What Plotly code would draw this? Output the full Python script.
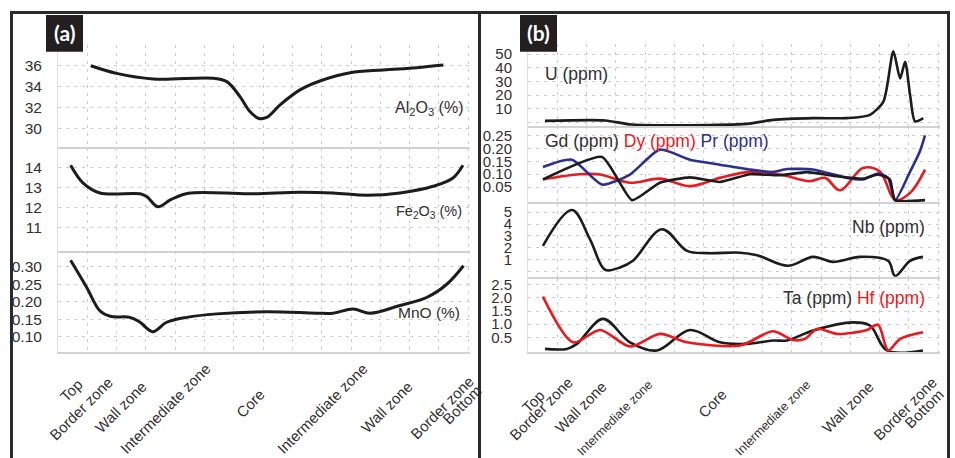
import plotly.graph_objects as go

# ---------------- DATA ----------------
zone_labels = ["Top", "Border zone", "Wall zone", "Intermediate zone", "Core",
               "Intermediate zone", "Wall zone", "Border zone", "Bottom"]

# Panel (a) – major oxides (%), position along profile
pos_al2o3 = [1.12, 2.0, 3.25, 5.30, 5.76, 6.21, 6.55, 6.84, 7.12, 7.58, 8.26, 8.94, 9.97, 11.1, 12.24, 13.15]
al2o3 = [36.0, 35.27, 34.73, 34.80, 34.48, 33.05, 31.62, 30.98, 31.05, 32.26, 33.69, 34.54, 35.33, 35.59, 35.81, 36.06]

pos_fe2o3 = [0.43, 0.85, 1.43, 2.8, 3.03, 3.41, 3.85, 4.45, 6.55, 8.26, 9.39, 10.55, 11.67, 12.8, 13.48, 13.82]
fe2o3 = [14.1, 13.23, 12.73, 12.69, 12.55, 12.05, 12.40, 12.72, 12.69, 12.77, 12.73, 12.62, 12.73, 13.06, 13.47, 14.1]

pos_mno = [0.43, 0.98, 1.43, 1.78, 2.46, 2.8, 3.23, 3.71, 4.39, 5.42, 7.12, 8.83, 9.39, 10.07, 10.65, 11.67, 12.58, 13.27, 13.84]
mno = [0.319, 0.241, 0.174, 0.158, 0.155, 0.141, 0.114, 0.141, 0.155, 0.165, 0.171, 0.167, 0.167, 0.179, 0.167, 0.189, 0.212, 0.25, 0.303]

# Panel (b) – trace elements (ppm)
pos_u = [0.58, 2.63, 3.54, 7.46, 8.37, 9.74, 10.88, 11.67, 12.13, 12.47, 12.7, 12.87, 13.04, 13.21, 13.49]
u_ppm = [1.2, 1.5, -1.5, -1.0, 1.9, 3.2, 3.2, 5.6, 15.3, 52.0, 32.2, 44.4, 20.2, 0.8, 3.2]

pos_gd = [0.51, 2.53, 3.55, 4.5, 5.53, 6.55, 7.58, 8.6, 9.52, 10.55, 11.43, 11.95, 12.35, 12.53, 13.55]
gd = [0.08, 0.167, 0.0, 0.067, 0.088, 0.07, 0.10, 0.096, 0.108, 0.092, 0.083, 0.099, 0.08, 0.0, 0.0]

pos_dy = [0.51, 1.77, 2.46, 3.48, 4.5, 5.53, 6.55, 7.58, 8.6, 9.62, 10.14, 10.65, 11.43, 12.01, 12.53, 13.04, 13.55]
dy = [0.08, 0.10, 0.099, 0.067, 0.083, 0.054, 0.086, 0.109, 0.099, 0.073, 0.086, 0.038, 0.124, 0.11, 0.0, 0.028, 0.118]

pos_pr = [0.51, 1.5, 2.53, 3.48, 4.5, 5.53, 6.55, 7.58, 8.36, 8.84, 9.73, 10.89, 11.43, 11.95, 12.29, 12.53, 13.04, 13.38, 13.55]
pr = [0.128, 0.156, 0.06, 0.099, 0.195, 0.156, 0.137, 0.118, 0.109, 0.12, 0.118, 0.086, 0.08, 0.103, 0.086, 0.0, 0.11, 0.19, 0.25]

pos_nb = [0.51, 1.5, 2.12, 2.63, 3.14, 3.58, 4.57, 5.43, 6.11, 7.24, 7.82, 8.87, 9.73, 10.41, 11.33, 12.29, 12.53, 13.04, 13.48]
nb = [2.17, 5.17, 2.7, 0.17, 0.36, 0.92, 3.56, 1.75, 1.56, 1.6, 1.39, 0.5, 1.25, 0.83, 1.25, 0.92, -0.35, 0.92, 1.25]

pos_ta = [0.58, 1.33, 1.67, 2.56, 3.48, 4.4, 5.53, 6.55, 7.47, 8.36, 8.84, 9.73, 11.09, 11.67, 12.25, 13.48]
ta = [0.06, 0.06, 0.25, 1.2, 0.31, 0.0, 0.78, 0.31, 0.25, 0.38, 0.38, 0.76, 1.07, 0.95, 0.0, 0.0]

pos_hf = [0.51, 1.54, 2.46, 3.48, 4.5, 5.43, 7.24, 8.36, 9.04, 9.45, 9.86, 10.55, 11.57, 11.95, 12.29, 12.7, 13.48]
hf = [2.05, 0.31, 0.78, 0.15, 0.63, 0.31, 0.19, 0.73, 0.4, 0.44, 0.82, 0.63, 0.78, 0.98, 0.0, 0.44, 0.69]

# tick values
al_ticks = [30, 32, 34, 36, 38]
fe_ticks = [11, 12, 13, 14]
mn_ticks = [0.10, 0.15, 0.20, 0.25, 0.30]
u_ticks = [0, 10, 20, 30, 40, 50]
gd_ticks = [0.05, 0.10, 0.15, 0.20, 0.25]
nb_ticks = [0, 1, 2, 3, 4, 5]
ta_ticks = [0.5, 1.0, 1.5, 2.0, 2.5]

# ---------------- LAYOUT HELPERS ----------------
W, H = 955, 458
def px(x):
    return x / W
def py(y):
    return 1 - y / H

BLACK = "#1c1c1c"
RED = "#e8191f"
BLUE = "#2c2f8f"
TXT = "#303030"
FONT = "Liberation Sans, Arial, sans-serif"
GRID = "#cccccc"

fig = go.Figure()

def add_line(n, xs, ys, color, width=3, smoothing=1.0):
    sfx = "" if n == 1 else str(n)
    fig.add_trace(go.Scatter(x=xs, y=ys, mode="lines",
                             line=dict(color=color, width=width, shape="spline", smoothing=smoothing),
                             xaxis="x" + sfx, yaxis="y" + sfx, showlegend=False, hoverinfo="skip"))

add_line(1, pos_al2o3, al2o3, BLACK, 3)
add_line(2, pos_fe2o3, fe2o3, BLACK, 3)
add_line(3, pos_mno, mno, BLACK, 3)
add_line(4, pos_u, u_ppm, BLACK, 2.6, 0.7)
add_line(5, pos_dy, dy, RED, 2.6)
add_line(5, pos_pr, pr, BLUE, 2.6, 0.6)
add_line(5, pos_gd, gd, BLACK, 2.6, 0.5)
add_line(6, pos_nb, nb, BLACK, 2.6)
add_line(7, pos_ta, ta, BLACK, 2.6)
add_line(7, pos_hf, hf, RED, 2.6, 0.8)

# subplot geometry: (x0, x1), (ytop, ybottom) in pixels, y range, ticks, labels, fontsize
panels = {
    1: ((58, 470), (43, 146), [28.19, 38.0], al_ticks, [str(v) for v in al_ticks[:-1]] + [""], 15.5),
    2: ((58, 470), (147, 250), [9.86, 14.94], fe_ticks, [str(v) for v in fe_ticks], 15.5),
    3: ((58, 470), (250, 352), [0.0543, 0.3457], mn_ticks, ["%.2f" % v for v in mn_ticks], 15.5),
    4: ((528, 940), (42, 125), [-2.9, 57.5], u_ticks, [""] + [str(v) for v in u_ticks[1:]], 15),
    5: ((528, 940), (125, 201), [-0.0077, 0.2846], gd_ticks, ["%.2f" % v for v in gd_ticks], 15),
    6: ((528, 940), (202, 276), [-0.42, 5.75], nb_ticks, [""] + [str(v) for v in nb_ticks[1:]], 15),
    7: ((528, 940), (277, 352), [-0.076, 2.765], ta_ticks, ["%.1f" % v for v in ta_ticks], 15),
}

layout = dict(width=W, height=H, margin=dict(l=0, r=0, t=0, b=0),
              paper_bgcolor="white", plot_bgcolor="white", showlegend=False)
for n, ((x0, x1), (yt, yb), yr, tv, tt, fs) in panels.items():
    sfx = "" if n == 1 else str(n)
    xr = [0, (x1 - x0) / 29.3]
    layout["xaxis" + sfx] = dict(domain=[px(x0), px(x1)], anchor="y" + sfx, range=xr,
                                 tickvals=list(range(1, 15)), showticklabels=False, ticks="",
                                 showgrid=True, gridcolor=GRID, griddash="3px,5px", gridwidth=1,
                                 showline=True, linecolor="#d2d2d2", linewidth=2, zeroline=False,
                                 fixedrange=True)
    layout["yaxis" + sfx] = dict(domain=[py(yb), py(yt)], anchor="x" + sfx, range=yr,
                                 tickvals=tv, ticktext=tt, ticks="", ticklabelstandoff=12,
                                 tickfont=dict(family=FONT, size=fs, color=TXT),
                                 showgrid=True, gridcolor=GRID, griddash="3px,5px", gridwidth=1,
                                 showline=True, linecolor="#e0e0e0", linewidth=1, zeroline=False,
                                 fixedrange=True)

annotations = []
# zone labels along the bottom (rotated), centre positions in pixels
label_ctr_a = [(71, 390), (81, 408), (120, 407), (165, 408), (250, 403), (322, 408), (386, 407), (442, 407), (462, 404)]
label_ctr_b = [(533, 401), (541, 408), (580, 407), (615, 418), (712, 403), (773, 418), (847, 407), (905, 408), (924, 408)]
for i, lab in enumerate(zone_labels):
    xa, ya = label_ctr_a[i]
    annotations.append(dict(text=lab, xref="paper", yref="paper", x=px(xa), y=py(ya),
                            xanchor="center", yanchor="middle", textangle=-45, showarrow=False,
                            font=dict(family=FONT, size=15, color=TXT)))
    xb, yb2 = label_ctr_b[i]
    fsb = 12.5 if lab == "Intermediate zone" else 15
    annotations.append(dict(text=lab, xref="paper", yref="paper", x=px(xb), y=py(yb2),
                            xanchor="center", yanchor="middle", textangle=-45, showarrow=False,
                            font=dict(family=FONT, size=fsb, color=TXT)))

def note(text, x, y, xanchor, size):
    annotations.append(dict(text=text, xref="paper", yref="paper", x=px(x), y=py(y),
                            xanchor=xanchor, yanchor="middle", showarrow=False,
                            font=dict(family=FONT, size=size, color=TXT)))

note("Al<sub>2</sub>O<sub>3</sub> (%)", 465, 107, "right", 16)
note("Fe<sub>2</sub>O<sub>3</sub> (%)", 464, 211, "right", 14.5)
note("MnO (%)", 462, 312, "right", 15.5)
note("U (ppm)", 543, 72, "left", 17.5)
note("Gd (ppm) <span style='color:%s'>Dy (ppm)</span> <span style='color:%s'>Pr (ppm)</span>" % (RED, BLUE),
     543, 140, "left", 17.5)
note("Nb (ppm)", 927, 226, "right", 17.5)
note("Ta (ppm) <span style='color:%s'>Hf (ppm)</span>" % RED, 927, 297, "right", 17.5)

# panel tags
for tag, x0 in (("(a)", 46), ("(b)", 520)):
    annotations.append(dict(text="<b>%s</b>" % tag, xref="paper", yref="paper",
                            x=px(x0 + 18.5), y=py(31), xanchor="center", yanchor="middle",
                            showarrow=False, font=dict(family="Lato, Open Sans, sans-serif", size=21, color="white")))

shapes = []
for x0 in (46, 520):
    shapes.append(dict(type="rect", xref="paper", yref="paper", x0=px(x0), x1=px(x0 + 37),
                       y0=py(50), y1=py(13), fillcolor="#231f20", line=dict(width=0), layer="above"))
FR = "#2a2a2a"
shapes.append(dict(type="line", xref="paper", yref="paper", x0=px(10), x1=px(950), y0=py(10.5), y1=py(10.5),
                   line=dict(color=FR, width=3)))
for xv in (11.5, 479.5, 948.5):
    shapes.append(dict(type="line", xref="paper", yref="paper", x0=px(xv), x1=px(xv), y0=py(9), y1=0,
                       line=dict(color=FR, width=3)))

layout["annotations"] = annotations
layout["shapes"] = shapes
fig.update_layout(**layout)
fig.write_html("out.html")
